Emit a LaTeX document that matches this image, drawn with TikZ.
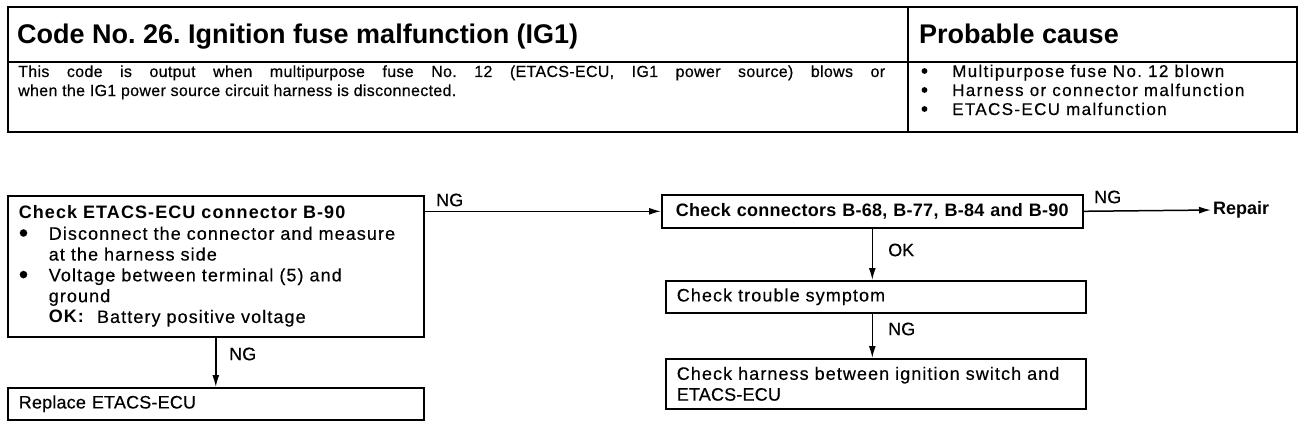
\documentclass[tikz,border=0pt]{standalone}
\usepackage{graphicx}
\usepackage{fontspec}
\setmainfont{Liberation Sans}[UprightFeatures={FakeBold=0.4}]
\usetikzlibrary{arrows.meta}
\newcommand{\bul}[1]{\makebox[#1][l]{\raisebox{-2.2pt}[0pt][0pt]{\scalebox{1.5}{\textbullet}}}}
\AtBeginDocument{\frenchspacing}
\begin{document}
\begin{tikzpicture}[x=1pt,y=-1pt,
  cell/.style={draw, line width=1.6pt, anchor=north west, inner sep=0pt},
  box/.style={draw, line width=1.6pt, anchor=north west, inner xsep=11pt, inner ysep=0pt, align=left, font=\fontsize{18}{20.8}\selectfont\addfontfeature{LetterSpace=6}},
  hdr/.style={anchor=base west, inner sep=0pt, font=\bfseries\fontsize{27}{30}\selectfont},
  txt/.style={anchor=base west, inner sep=0pt, font=\fontsize{16}{19}\selectfont\addfontfeature{LetterSpace=2}},
  ptxt/.style={anchor=base west, inner sep=0pt, font=\fontsize{17}{19}\selectfont\addfontfeature{LetterSpace=8}},
  dot/.style={fill=black},
  conn/.style={line width=1.5pt, -{Latex[length=12pt,width=7pt]}},
  lbl/.style={anchor=west, inner sep=0pt, font=\fontsize{18}{20}\selectfont},
]
\useasboundingbox (0,0) rectangle (1312,428);
\fill[white] (0,0) rectangle (1312,428);

% table
\node[cell, minimum width=900pt, minimum height=55pt] (h1) at (7,6) {};
\node[cell, minimum width=389pt, minimum height=55pt] (h2) at (907,6) {};
\node[cell, minimum width=900pt, minimum height=70pt] (c1) at (7,61) {};
\node[cell, minimum width=389pt, minimum height=70pt] (c2) at (907,61) {};
\node[hdr] (title) at (17,44) {Code No. 26. Ignition fuse malfunction (IG1)};
\node[hdr] (pcause) at (919,44) {Probable cause};
\node[txt] (d1) at (18,77) {\makebox[867pt][s]{This code is output when multipurpose fuse No. 12 (ETACS-ECU, IG1 power source) blows or}};
\node[txt] (d2) at (18,96) {when the IG1 power source circuit harness is disconnected.};
\fill[dot] (924.5,71) circle (2.9pt);
\fill[dot] (924.5,90) circle (2.9pt);
\fill[dot] (924.5,109) circle (2.9pt);
\node[ptxt] (p1) at (952,77) {Multipurpose fuse No. 12 blown};
\node[ptxt] (p2) at (952,96) {Harness or connector malfunction};
\node[ptxt] (p3) at (952,115) {ETACS-ECU malfunction};

% flow boxes
\node[box, text width=394pt, minimum height=141pt] (chk) at (7,195) {\textbf{Check ETACS-ECU connector B-90}\\
\bul{30pt}Disconnect the connector and measure\\
\hspace*{30pt}at the harness side\\
\bul{30pt}Voltage between terminal (5) and\\
\hspace*{30pt}ground\\
\hspace*{30pt}\textbf{OK:}\hspace{12pt}Battery positive voltage};
\node[box, text width=394pt, minimum height=32pt] (rep) at (7,387) {\addfontfeature{LetterSpace=1}Replace ETACS-ECU};
\node[box, inner xsep=14pt, text width=393pt, minimum height=33pt] (con) at (661,194) {\bfseries\addfontfeature{LetterSpace=1.5}Check connectors B-68, B-77, B-84 and B-90};
\node[box, text width=398pt, minimum height=32pt] (sym) at (665,280) {Check trouble symptom};
\node[box, text width=398pt, minimum height=50pt] (har) at (665,358) {\makebox[398pt][s]{Check harness between ignition switch and}\\{\addfontfeature{LetterSpace=1}ETACS-ECU}};
\node[anchor=west, inner sep=0pt, font=\bfseries\fontsize{18}{20}\selectfont] (fix) at (1213,210) {Repair};

% connectors
\draw[conn] (chk.south) -- (rep.north);
\node[lbl] (ng1) at (229,354) {NG};
\draw[conn] (chk.east |- con.west) -- (con.west);
\node[lbl] (ng2) at (436,200) {NG};
\draw[conn, shorten >=2pt] (con.east) -- (fix.west);
\node[lbl] (ng3) at (1094,197) {NG};
\draw[conn] (con.south) -- (con.south |- sym.north);
\node[lbl] (ok1) at (888,250) {OK};
\draw[conn] (con.south |- sym.south) -- (con.south |- har.north);
\node[lbl] (ng4) at (888,329) {NG};
\end{tikzpicture}
\end{document}
